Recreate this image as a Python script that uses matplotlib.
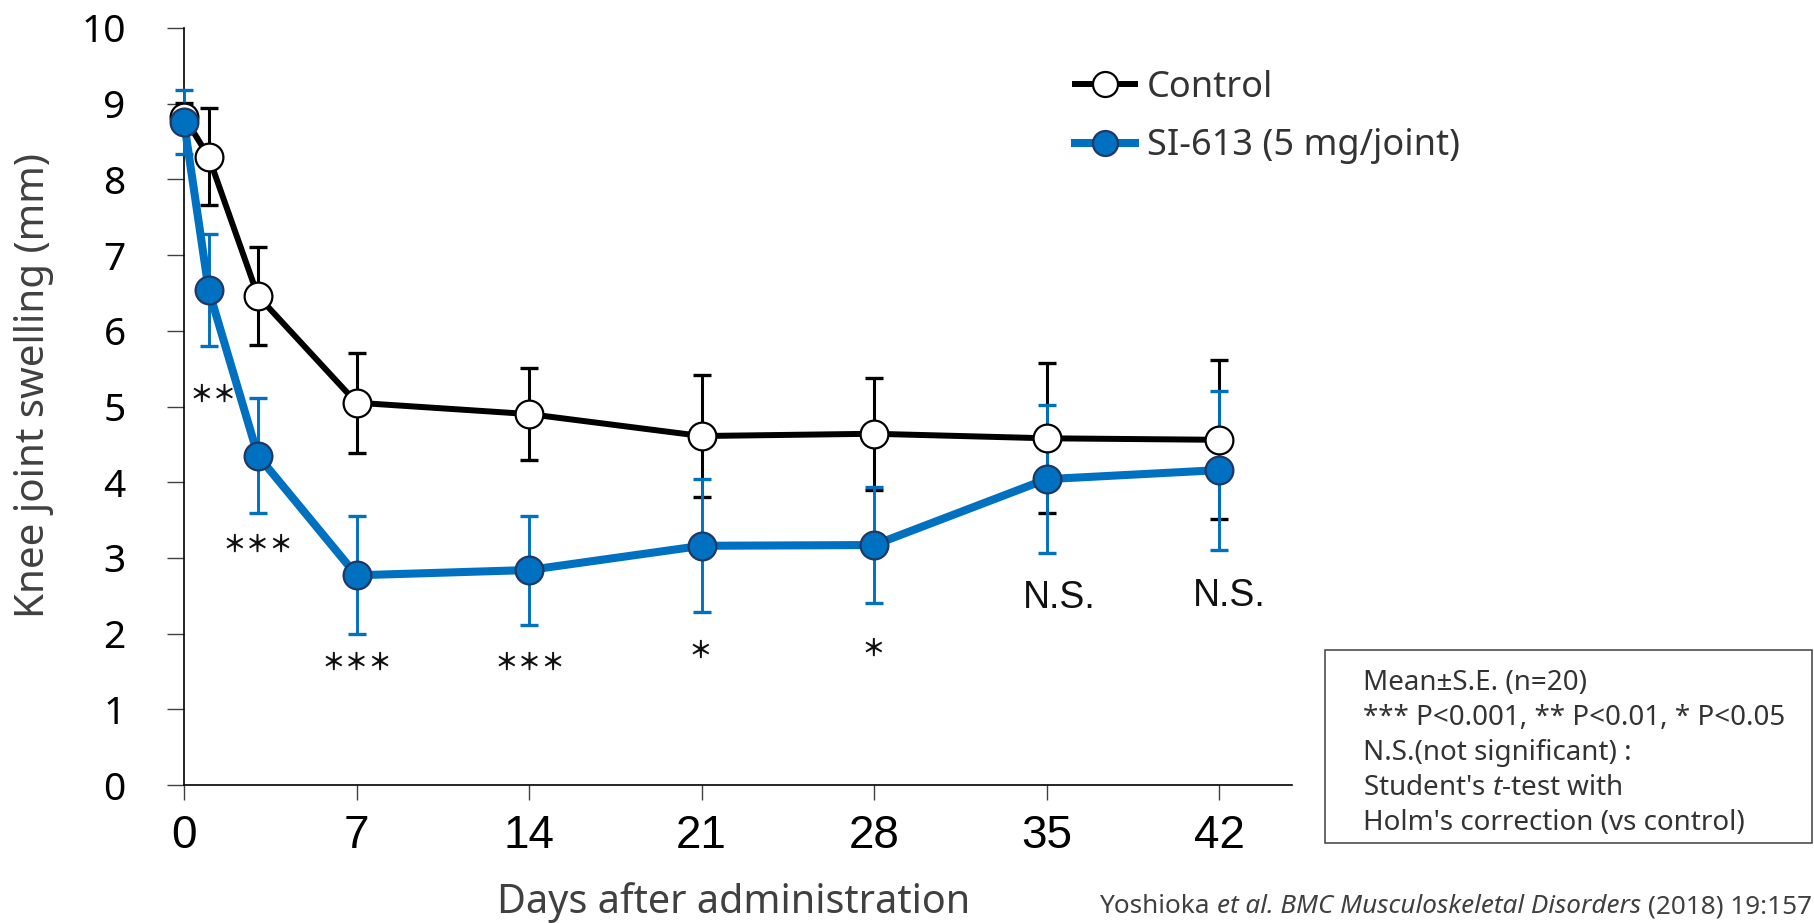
import matplotlib
matplotlib.use("Agg")
import matplotlib.pyplot as plt
from matplotlib.patches import Rectangle

# ---------------- data ----------------
days = [0, 1, 3, 7, 14, 21, 28, 35, 42]
control_mean = [8.83, 8.30, 6.46, 5.05, 4.90, 4.61, 4.64, 4.58, 4.56]
control_se = [0.18, 0.64, 0.65, 0.66, 0.61, 0.80, 0.74, 0.99, 1.05]
si_mean = [8.76, 6.54, 4.35, 2.77, 2.84, 3.16, 3.17, 4.04, 4.16]
si_se = [0.42, 0.74, 0.76, 0.78, 0.72, 0.88, 0.77, 0.98, 1.05]

xticks = [0, 7, 14, 21, 28, 35, 42]
yticks = [0, 1, 2, 3, 4, 5, 6, 7, 8, 9, 10]

series_labels = ["Control", "SI-613 (5 mg/joint)"]

star_labels = ["**", "***", "***", "***", "*", "*"]
star_x = [1.18, 3.0, 7.02, 14.04, 20.94, 27.96]
star_y = [5.15, 3.17, 1.61, 1.61, 1.77, 1.80]

ns_labels = ["N.S.", "N.S."]
ns_x = [35.5, 42.4]
ns_y = [2.34, 2.36]

note_lines = [
    "Mean\u00b1S.E. (n=20)",
    "*** P<0.001, ** P<0.01, * P<0.05",
    "N.S.(not significant) :",
    "Student's $\\mathit{t}$-test with",
    "Holm's correction (vs control)",
]
citation_parts = [("Yoshioka", "normal"),
                  ("et al. BMC Musculoskeletal Disorders", "italic"),
                  ("(2018) 19:157", "normal")]

# ---------------- style ----------------
plt.rcParams['font.family'] = ['Noto Sans', 'DejaVu Sans']
plt.rcParams['mathtext.fontset'] = 'custom'
plt.rcParams['mathtext.rm'] = 'Noto Sans'
plt.rcParams['mathtext.it'] = 'Noto Sans:italic'

W, H = 1814, 923
fig = plt.figure(figsize=(W / 100, H / 100), dpi=100)
fig.patch.set_facecolor('white')

def fx(px):
    return px / W

def fy(py):
    return (H - py) / H

ax = fig.add_axes([fx(184), fy(785), (1292 - 184) / W, (785 - 28) / H])
ax.set_xlim(0, 44.96)
ax.set_ylim(0, 10)

BLUE = '#0070C0'
NAVY = '#1F3864'

# error bars
ax.errorbar(days, control_mean, yerr=control_se, fmt='none', ecolor='black',
            elinewidth=2.2, capsize=6.3, capthick=2.4, zorder=2, clip_on=False)
ax.errorbar(days, si_mean, yerr=si_se, fmt='none', ecolor=BLUE,
            elinewidth=2.1, capsize=6.3, capthick=2.4, zorder=3, clip_on=False)

ctrl_line, = ax.plot(days, control_mean, color='black', lw=4.3, marker='o',
                     markersize=20, markerfacecolor='white', markeredgecolor='black',
                     markeredgewidth=1.6, zorder=4, clip_on=False)
si_line, = ax.plot(days, si_mean, color=BLUE, lw=5.8, marker='o',
                   markersize=20, markerfacecolor=BLUE, markeredgecolor=NAVY,
                   markeredgewidth=1.6, zorder=5, clip_on=False)

# axes styling
for s in ['top', 'right']:
    ax.spines[s].set_visible(False)
for s in ['left', 'bottom']:
    ax.spines[s].set_linewidth(1.2)
    ax.spines[s].set_color('black')

ax.set_xticks(xticks)
ax.set_xticklabels([str(t) for t in xticks])
ax.set_yticks(yticks)
ax.set_yticklabels([str(t) for t in yticks])
ax.tick_params(axis='y', direction='out', length=12, width=1.0, color='#404040',
               pad=30, labelsize=28, labelcolor='black')
ax.tick_params(axis='x', direction='out', length=11, width=1.0, color='#404040',
               pad=10, labelsize=33, labelcolor='black')
for lab in ax.get_xticklabels():
    lab.set_fontfamily(['Liberation Sans Narrow', 'Liberation Sans', 'DejaVu Sans'])

# axis labels
fig.text(fx(734), fy(913), "Days after administration", ha='center', va='baseline',
         fontsize=28.5, color='#404040')
fig.text(fx(34), fy(386), "Knee joint swelling (mm)", ha='center', va='center',
         rotation=90, fontsize=29, color='#404040')

# significance marks
for lab, x, y in zip(star_labels, star_x, star_y):
    ax.text(x, y, lab.replace('*', '\uff0a'), ha='center', va='center', fontsize=17,
            color='#111111', fontweight='bold',
            family=['Noto Sans CJK JP', 'DejaVu Sans'])
for lab, x, y in zip(ns_labels, ns_x, ns_y):
    ax.text(x, y, lab, ha='center', va='baseline', fontsize=27, color='#111111',
            family=['Liberation Sans', 'DejaVu Sans'])

# legend
leg = ax.legend([ctrl_line, si_line], series_labels, loc='upper left',
                bbox_to_anchor=(fx(1075), fy(70)), bbox_transform=fig.transFigure,
                frameon=False, borderpad=0, borderaxespad=0, fontsize=26,
                handlelength=1.67, handletextpad=0.33, labelspacing=0.62,
                markerscale=0.9)
for t in leg.get_texts():
    t.set_color('#333333')

# note box
fig.patches.append(Rectangle((fx(1325), fy(843)), (1812 - 1325) / W, (843 - 650) / H,
                             transform=fig.transFigure, fill=False,
                             edgecolor='#404040', linewidth=1.1))
baselines = [690, 725, 760, 795, 830]
for line, b in zip(note_lines, baselines):
    fig.text(fx(1363), fy(b), line, ha='left', va='baseline', fontsize=20,
             color='#333333')

# citation, right aligned, assembled from pieces with mixed styles
renderer = fig.canvas.get_renderer()
CIT_SIZE = 18.8
tmp = fig.text(0, 0, "a a", fontsize=CIT_SIZE)
w_sp = tmp.get_window_extent(renderer).width
tmp.set_text("aa")
w_sp -= tmp.get_window_extent(renderer).width
tmp.remove()

pieces = []
widths = []
for txt, style in citation_parts:
    t = fig.text(0, fy(913), txt, ha='left', va='baseline', fontsize=CIT_SIZE,
                 style=style, color='#404040')
    pieces.append(t)
    widths.append(t.get_window_extent(renderer).width)
total = sum(widths) + w_sp * (len(pieces) - 1)
xpos = 1812 - total
for t, w in zip(pieces, widths):
    t.set_x(fx(xpos))
    xpos += w + w_sp

fig.savefig('out.png', dpi=100, facecolor='white')
